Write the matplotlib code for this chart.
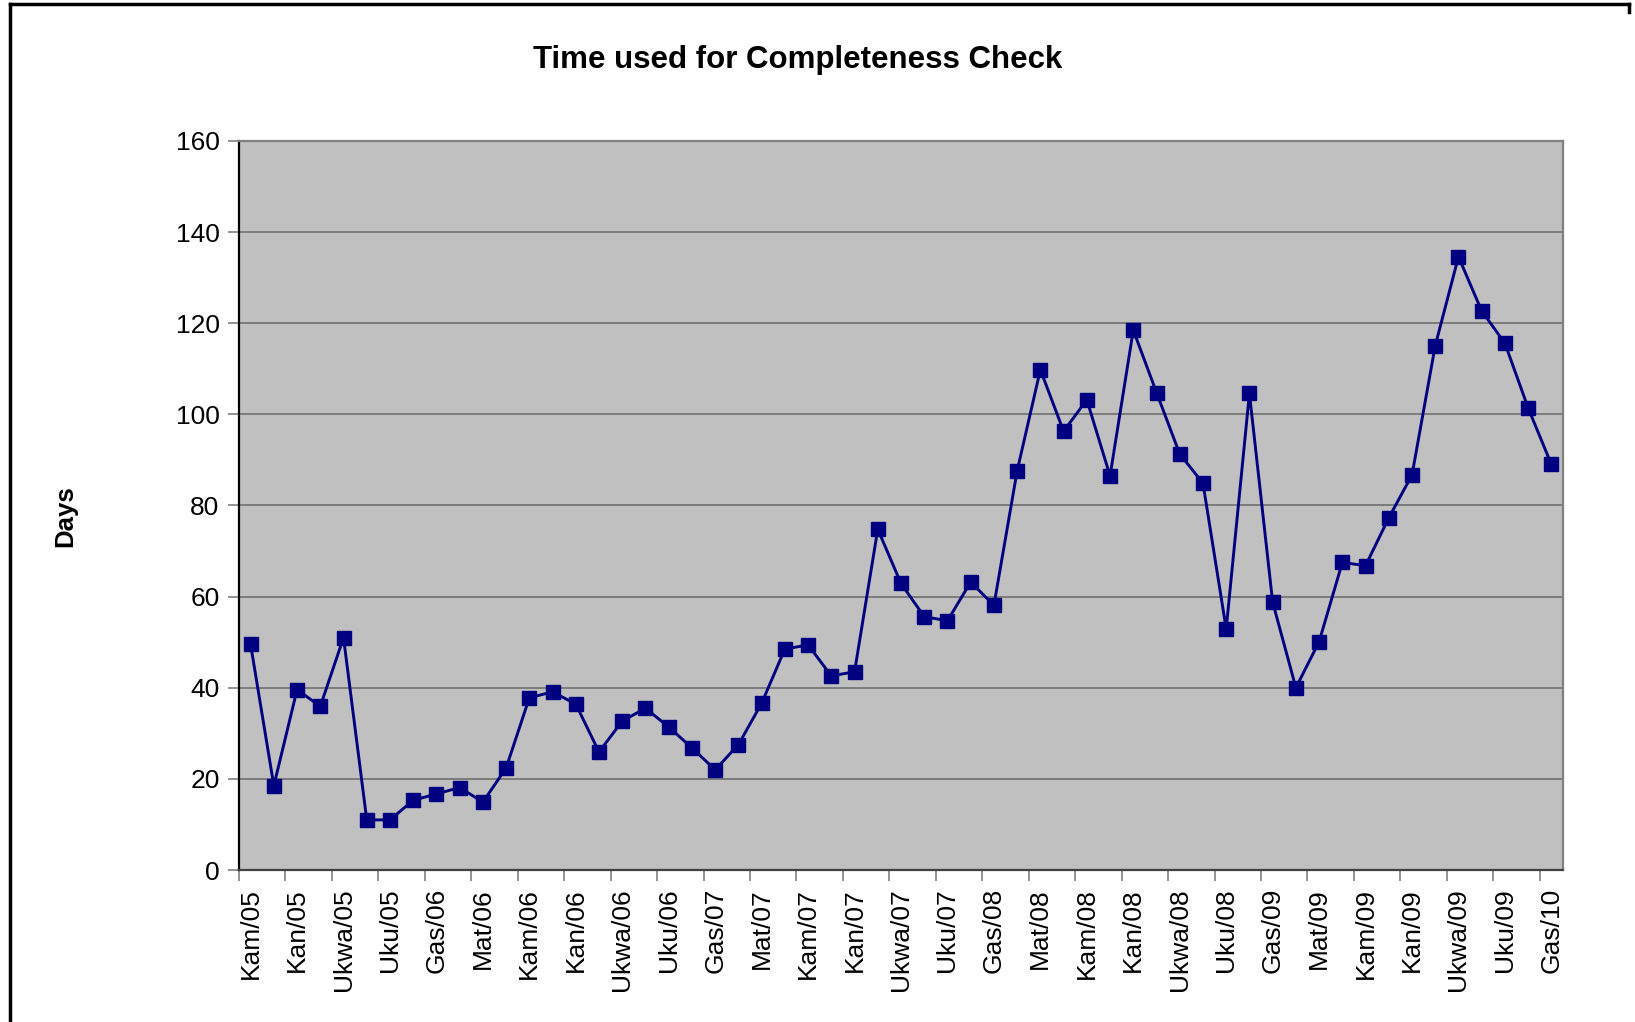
import numpy as np
import matplotlib
matplotlib.use("Agg")
import matplotlib.pyplot as plt
from matplotlib.lines import Line2D

plt.rcParams['font.family'] = ['Liberation Sans', 'DejaVu Sans']

# monthly values, Kamena 2005 .. Gashyantare 2010
days = [49.5, 18.5, 39.6, 35.9, 51.0, 11.0, 11.0, 15.3, 16.7, 18.1,
        14.9, 22.4, 37.8, 39.1, 36.4, 25.9, 32.7, 35.5, 31.4, 26.8,
        22.0, 27.5, 36.6, 48.5, 49.4, 42.6, 43.5, 74.8, 62.9, 55.6,
        54.7, 63.2, 58.1, 87.6, 109.8, 96.3, 103.2, 86.5, 118.5, 104.8,
        91.3, 84.9, 52.9, 104.6, 58.8, 40.0, 50.1, 67.5, 66.8, 77.3,
        86.7, 115.1, 134.6, 122.7, 115.6, 101.4, 89.0]

tick_labels = ["Kam/05", "Kan/05", "Ukwa/05", "Uku/05", "Gas/06", "Mat/06",
               "Kam/06", "Kan/06", "Ukwa/06", "Uku/06", "Gas/07", "Mat/07",
               "Kam/07", "Kan/07", "Ukwa/07", "Uku/07", "Gas/08", "Mat/08",
               "Kam/08", "Kan/08", "Ukwa/08", "Uku/08", "Gas/09", "Mat/09",
               "Kam/09", "Kan/09", "Ukwa/09", "Uku/09", "Gas/10"]

x = np.arange(len(days))

fig = plt.figure(figsize=(16.35, 10.22), dpi=100)
ax = fig.add_axes([239/1635, 1 - 870/1022, (1563-239)/1635, (870-141)/1022])
ax.set_facecolor('#c0c0c0')

ax.plot(x, days, color='#000080', lw=2.1, marker='s', ms=10,
        markerfacecolor='#000080', markeredgecolor='#000080')

ax.set_xlim(-0.5, len(days) - 0.5)
ax.set_ylim(0, 160)
ax.set_yticks(np.arange(0, 161, 20))
ax.yaxis.grid(True, color='#707070', lw=1.2)
ax.set_axisbelow(True)

# tick marks on category borders, labels on every second category
ax.set_xticks(np.arange(-0.5, len(days) - 0.5, 2))
ax.set_xticklabels([])
ax.set_xticks(x[::2], minor=True)
ax.set_xticklabels(tick_labels, minor=True, rotation=90, fontsize=19)
ax.tick_params(axis='x', which='minor', length=0, pad=13)
ax.tick_params(axis='x', which='major', length=8, color='#808080', width=1.2)
ax.tick_params(axis='y', length=8, color='#808080', width=1.2, labelsize=19, pad=6)

ax.spines['left'].set_color('black')
ax.spines['bottom'].set_color('#404040')
ax.spines['top'].set_color('#808080')
ax.spines['right'].set_color('#808080')
for s in ax.spines.values():
    s.set_linewidth(1.6)

fig.text(798/1635, 1 - 60/1022, "Time used for Completeness Check",
         ha='center', va='center', fontsize=22.5, fontweight='bold')
fig.text(65/1635, 1 - 516/1022, "Days", ha='center', va='center',
         rotation=90, fontsize=18.5, fontweight='bold')

# outer chart border
fig.add_artist(Line2D([10/1635, 1629/1635], [1 - 4/1022, 1 - 4/1022],
                      color='black', lw=2.5, transform=fig.transFigure))
fig.add_artist(Line2D([10/1635, 10/1635], [1 - 4/1022, 0],
                      color='black', lw=2.5, transform=fig.transFigure))
fig.add_artist(Line2D([1629/1635, 1629/1635], [1 - 4/1022, 1 - 12/1022],
                      color='black', lw=2.5, transform=fig.transFigure))

fig.savefig("out.png", dpi=100)
